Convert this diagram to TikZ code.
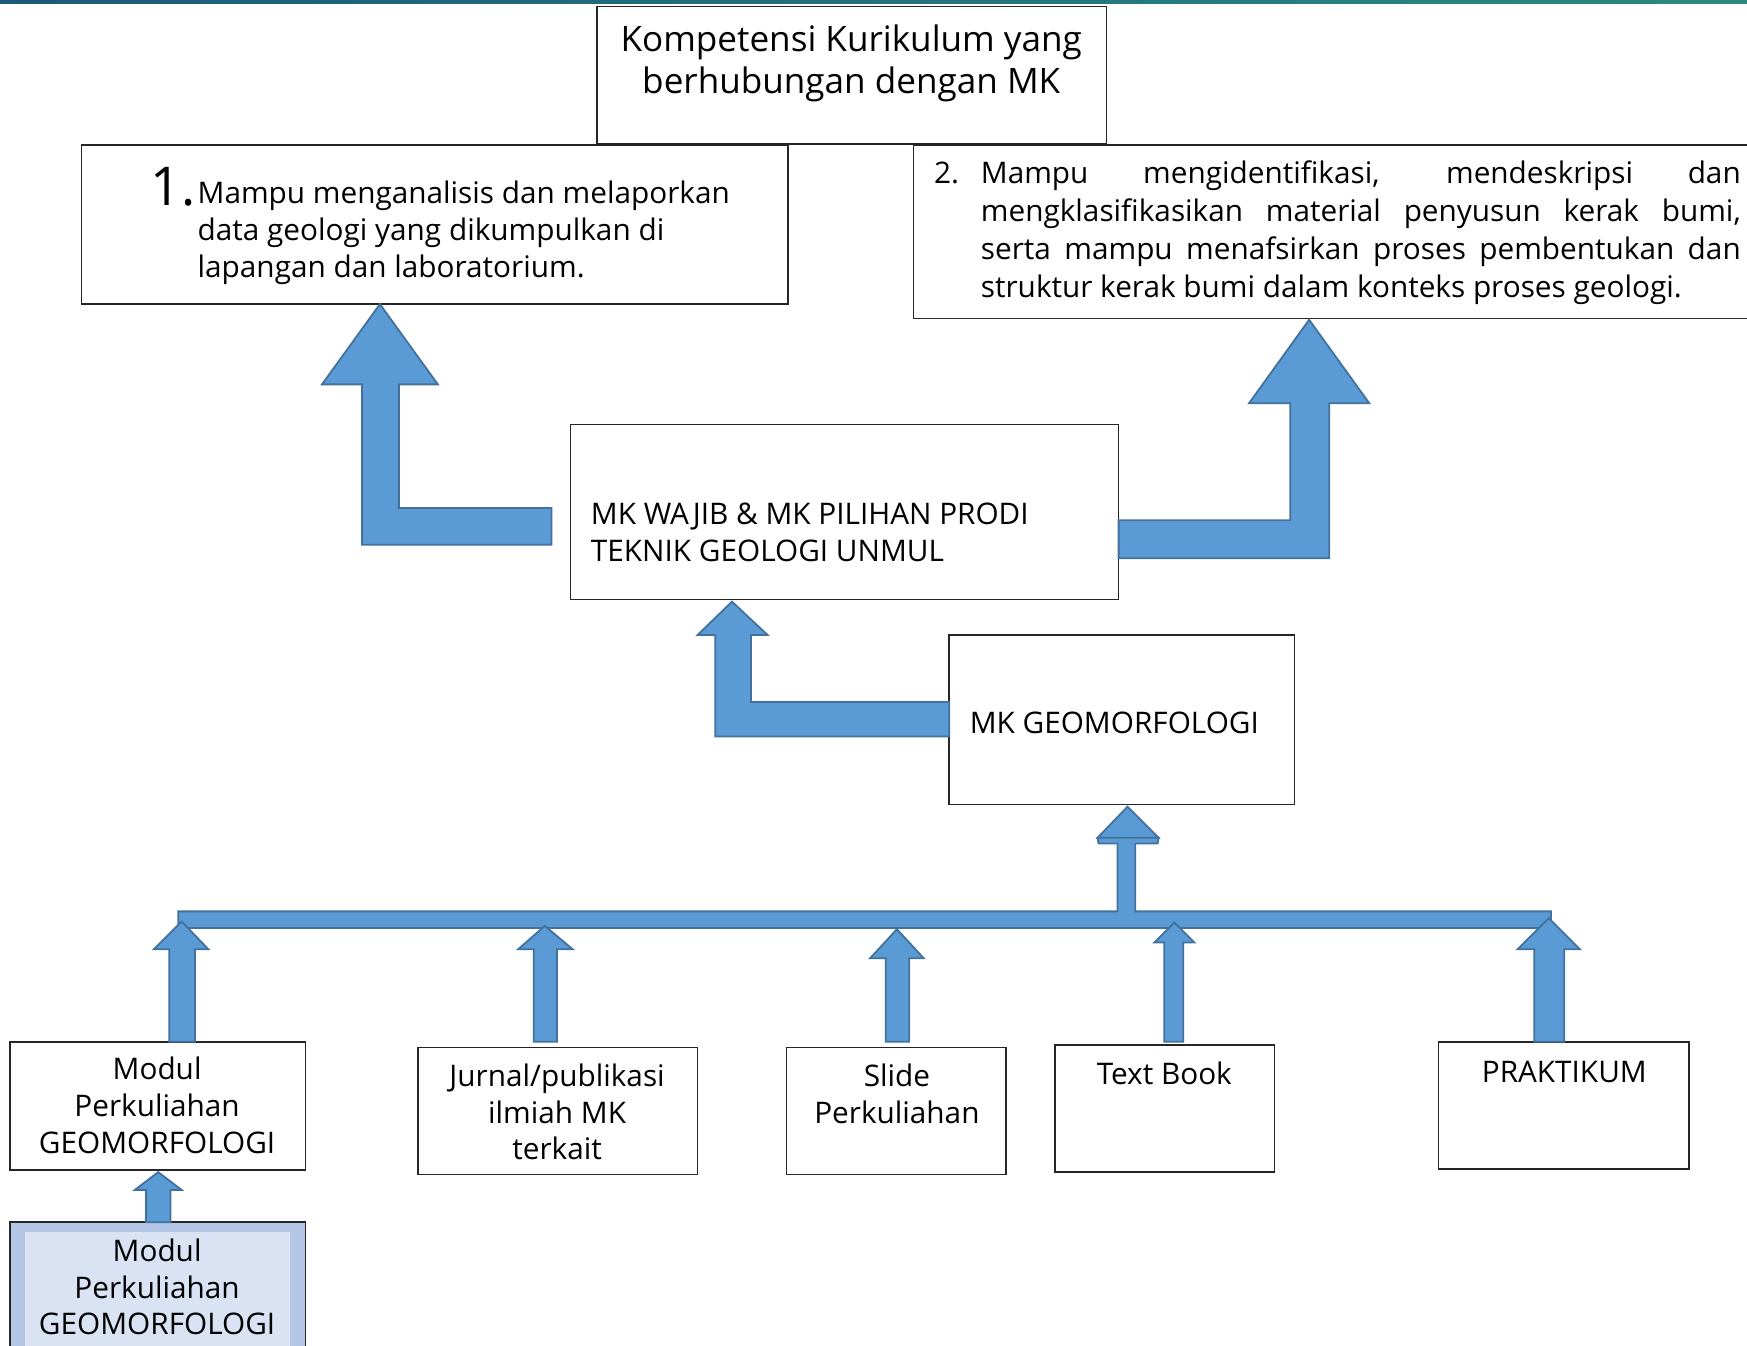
\documentclass[tikz,border=0pt]{standalone}
\usepackage{fontspec}
\setmainfont{Open Sans}
\usetikzlibrary{fit}
\definecolor{arrfill}{HTML}{5B9BD5}
\definecolor{arrline}{HTML}{41719C}
\definecolor{boxline}{HTML}{262626}
\definecolor{lightfill}{HTML}{B4C7E7}
\definecolor{lighterfill}{HTML}{DAE3F3}
\definecolor{barL}{HTML}{1B5A78}
\definecolor{barR}{HTML}{2A8A80}
\begin{document}
\begin{tikzpicture}[x=0.5pt,y=-0.5pt,
  box/.style={draw=boxline, line width=0.7pt, inner sep=0pt},
  arr/.style={fill=arrfill, draw=arrline, line width=0.8pt, line join=miter},
  txt/.style={inner sep=0pt, font=\fontsize{13.35}{16.5}\selectfont},
  bigtxt/.style={inner sep=0pt, font=\fontsize{15.75}{19}\selectfont}]
\useasboundingbox (0,0) rectangle (1568,1208);
\clip (0,0) rectangle (1568,1208);
\shade[left color=barL, right color=barR] (0,0) rectangle (1568,3.5);

% boxes
\node[box, fit={(536,6) (993,129)}] (top) {};
\node[box, fit={(73,130) (707,273)}] (b1) {};
\node[box, fit={(820,130) (1590,286)}] (b2) {};
\node[box, fit={(512,381) (1004,538)}] (wajib) {};
\node[box, fit={(852,570) (1162,722)}] (geo) {};
\node[box, fit={(9,935) (274,1050)}] (modul) {};
\node[box, fit={(375,940) (626,1054)}] (jurnal) {};
\node[box, fit={(706,940) (903,1054)}] (slide) {};
\node[box, fit={(947,938) (1144,1052)}] (book) {};
\node[box, fit={(1291,935) (1516,1049)}] (prak) {};
\node[box, fill=lightfill, fit={(9,1097) (274,1220)}] (modul2) {};
\fill[lighterfill] (22,1106) rectangle (260,1220);

% texts
\node[bigtxt, align=center] (ttop) at (764,57) {Kompetensi Kurikulum yang\\berhubungan dengan MK};
\node[inner sep=0pt, anchor=west, font=\fontsize{24}{28}\selectfont] (n1) at (135,168) {1.};
\node[txt, anchor=west, align=left] (t1) at (177,209) {Mampu menganalisis dan melaporkan\\data geologi yang dikumpulkan di\\lapangan dan laboratorium.};
\node[txt, anchor=west, font=\fontsize{13.35}{17}\selectfont] (t2) at (838,209) {\makebox[21pt][l]{2.}\parbox[t]{341pt}{\fontsize{13.35}{17}\selectfont Mampu mengidentifikasi, mendeskripsi dan\linebreak mengklasifikasikan material penyusun kerak bumi,\linebreak serta mampu menafsirkan proses pembentukan dan\linebreak struktur kerak bumi dalam konteks proses geologi.}};
\node[txt, anchor=west, align=left] (twajib) at (530,477.5) {MK WAJIB \& MK PILIHAN PRODI\\TEKNIK GEOLOGI UNMUL};
\node[txt, anchor=west] (tgeo) at (870,649) {MK GEOMORFOLOGI};
\node[txt, align=center] (tmodul) at (141,992) {Modul\\Perkuliahan\\GEOMORFOLOGI};
\node[txt, align=center] (tjurnal) at (500,998) {Jurnal/publikasi\\ilmiah MK\\terkait};
\node[txt, align=center] (tslide) at (805,981.5) {Slide\\Perkuliahan};
\node[txt] (tbook) at (1045,963) {Text Book};
\node[txt] (tprak) at (1404,962) {PRAKTIKUM};
\node[txt, align=center] (tmodul2) at (141,1155) {Modul\\Perkuliahan\\GEOMORFOLOGI};

% block arrows
\draw[arr] (495,456) -- (358,456) -- (358,345) -- (393,345) -- (341,273) -- (289,345) -- (325,345) -- (325,489) -- (495,489) -- cycle;
\draw[arr] (1004,467) -- (1158,467) -- (1158,362) -- (1121,362) -- (1175,287) -- (1229,362) -- (1193,362) -- (1193,501) -- (1004,501) -- cycle;
\draw[arr] (852,630) -- (674,630) -- (674,570) -- (689,570) -- (657,540) -- (626,570) -- (642,570) -- (642,661) -- (852,661) -- cycle;
\draw[arr] (160,818) -- (1003,818) -- (1003,752) -- (985,752) -- (1012,724) -- (1040,752) -- (1019,752) -- (1019,818) -- (1392,818) -- (1392,833) -- (160,833) -- cycle;
\draw[arr] (1003,757) -- (986,757) -- (985,752) -- (1040,752) -- (1039,757) -- (1019,757);

% small up arrows
\draw[arr] (152,935) -- (152,852) -- (138,852) -- (163,827) -- (187,852) -- (175,852) -- (175,935) -- cycle;
\draw[arr] (479,935) -- (479,852) -- (465,852) -- (489,831) -- (514,852) -- (500,852) -- (500,935) -- cycle;
\draw[arr] (795,935) -- (795,860) -- (781,860) -- (805,834) -- (829,860) -- (816,860) -- (816,935) -- cycle;
\draw[arr] (1045,935) -- (1045,846) -- (1036,846) -- (1054,828) -- (1072,846) -- (1062,846) -- (1062,935) -- cycle;
\draw[arr] (1377,935) -- (1377,852) -- (1362,852) -- (1390,824) -- (1418,852) -- (1404,852) -- (1404,935) -- cycle;
\draw[arr] (131,1097) -- (131,1068) -- (121,1068) -- (142,1052) -- (163,1068) -- (153,1068) -- (153,1097) -- cycle;
\end{tikzpicture}
\end{document}
